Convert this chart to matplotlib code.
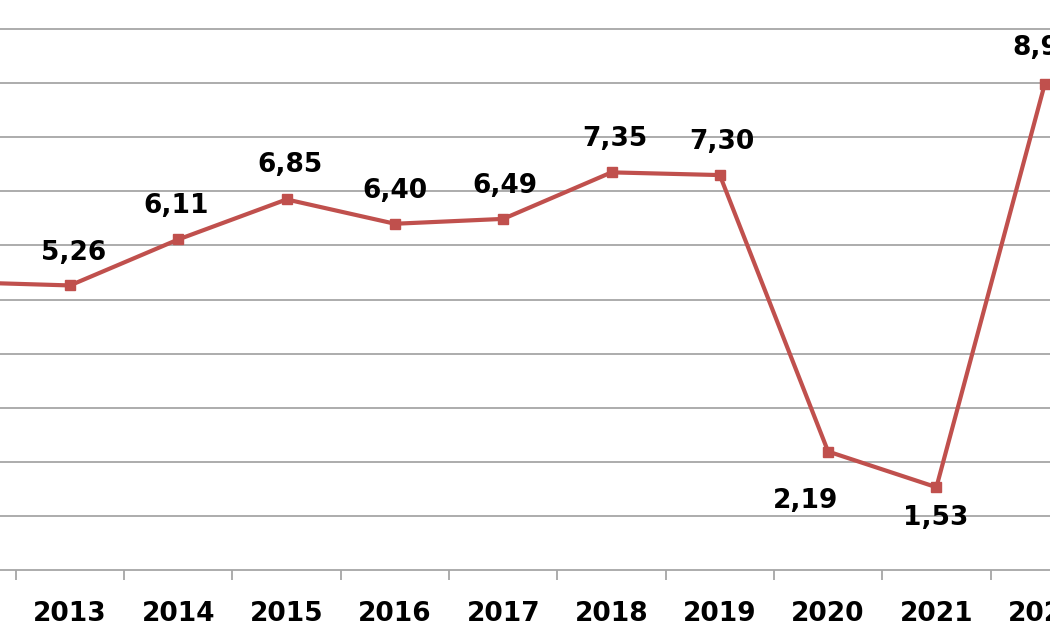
import matplotlib
matplotlib.use("Agg")
import matplotlib.pyplot as plt
import numpy as np

years = [2012, 2013, 2014, 2015, 2016, 2017, 2018, 2019, 2020, 2021, 2022]
values = [5.32, 5.26, 6.11, 6.85, 6.40, 6.49, 7.35, 7.30, 2.19, 1.53, 8.98]
labels = ["5,32", "5,26", "6,11", "6,85", "6,40", "6,49", "7,35", "7,30", "2,19", "1,53", "8,98"]
# label offsets in pixels (dx, dy)
offsets = [(0, 30), (4, 32), (-2, 33), (3, 34), (0, 33), (2, 33), (3, 33), (2, 33),
           (-23, -49), (-1, -31), (0, 36)]

fig = plt.figure(figsize=(10.5, 6.3), dpi=100)
ax = fig.add_axes([0, 60/630, 1, 570/630])

red = "#C0504D"
ax.plot(years, values, color=red, lw=3.0, marker="s", markersize=7,
        markerfacecolor=red, markeredgecolor=red, zorder=3)

for x, v, lab, (dx, dy) in zip(years, values, labels, offsets):
    ax.annotate(lab, (x, v), xytext=(dx, dy), textcoords="offset pixels",
                ha="center", va="center", fontsize=19, fontweight="bold",
                family="DejaVu Sans", color="black", annotation_clip=False)

ax.set_yticks(np.arange(1, 11))
ax.yaxis.grid(True, color="#A6A6A6", lw=1.3)
ax.tick_params(axis="y", left=False, labelleft=False)
ax.set_axisbelow(True)

ax.set_xticks(years)
ax.set_xticklabels([str(y) for y in years], fontsize=19, fontweight="bold", family="DejaVu Sans")
ax.set_xticks([y + 0.5 for y in range(2011, 2023)], minor=True)
ax.tick_params(axis="x", which="major", length=0, pad=22)
ax.tick_params(axis="x", which="minor", length=7, width=1.3, color="#A6A6A6", direction="out")

x0 = 2013 - 70/108.3
x1 = 2013 + 980/108.3
ax.set_xlim(x0, x1)
ax.set_ylim(0, 570/54.1)

for s in ["top", "left", "right"]:
    ax.spines[s].set_visible(False)
ax.spines["bottom"].set_color("#A6A6A6")
ax.spines["bottom"].set_linewidth(1.3)

fig.savefig("out.png", dpi=100)
